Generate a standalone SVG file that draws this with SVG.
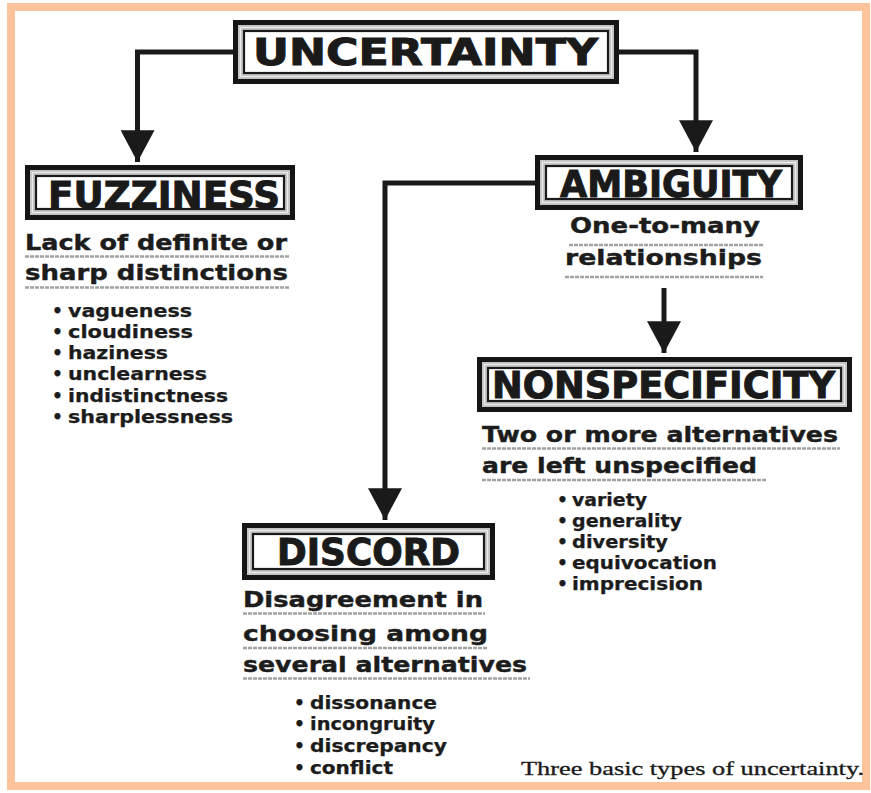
<svg xmlns="http://www.w3.org/2000/svg" width="871" height="793" viewBox="0 0 871 793">
  <defs>
    <style>
      .title { font-family: "DejaVu Sans", "Liberation Sans", sans-serif; font-weight: bold; font-size: 37px; fill: #1a1a1a; stroke: #1a1a1a; stroke-width: 1; }
      .sub { font-family: "DejaVu Sans", "Liberation Sans", sans-serif; font-weight: bold; font-size: 21px; fill: #1c1c1c; stroke: #1c1c1c; stroke-width: 0.4; }
      .item { font-family: "DejaVu Sans", "Liberation Sans", sans-serif; font-weight: bold; font-size: 17px; fill: #1c1c1c; stroke: #1c1c1c; stroke-width: 0.25; }
      .ul { stroke: #a3a3a3; stroke-width: 2.5; stroke-dasharray: 4 1; }
      .b-out { fill: #151515; }
      .b-band { fill: #c4c4c4; }
      .b-hl { fill: none; stroke: #ececec; stroke-width: 1.2; }
      .b-in { fill: #ffffff; stroke: #1a1a1a; stroke-width: 2.2; }
      .conn { fill: none; stroke: #1a1a1a; stroke-width: 5; }
      .cap { font-family: "Liberation Serif", "Times New Roman", serif; font-size: 19px; fill: #1a1a1a; stroke: #1a1a1a; stroke-width: 0.3; }
    </style>
    <marker id="head" markerUnits="userSpaceOnUse" markerWidth="34" markerHeight="34" viewBox="0 0 30 32" refX="30" refY="16" orient="auto">
      <path d="M0,0 L30,16 L0,32 Z" fill="#1a1a1a"/>
    </marker>
  </defs>

  <!-- page background and peach frame -->
  <rect x="0" y="0" width="871" height="793" fill="#ffffff"/>
  <rect x="11" y="7" width="855" height="779" fill="none" stroke="#fdc49b" stroke-width="8"/>

  <!-- connectors -->
  <g id="connectors">
    <path class="conn" d="M233,52 H137.5 V162" marker-end="url(#head)"/>
    <path class="conn" d="M619,52 H696 V152" marker-end="url(#head)"/>
    <path class="conn" d="M535,183 H385 V520" marker-end="url(#head)"/>
    <path class="conn" d="M664,288 V353" marker-end="url(#head)"/>
  </g>

  <!-- root node -->
  <g id="uncertainty">
    <rect class="b-out" x="233" y="20" width="386" height="64"/>
    <rect class="b-band" x="238" y="25" width="376" height="54"/>
    <rect class="b-hl" x="240.5" y="27.5" width="371" height="49"/>
    <rect class="b-in" x="244" y="31" width="364" height="42"/>
    <text class="title" x="253" y="65" textLength="345" lengthAdjust="spacingAndGlyphs">UNCERTAINTY</text>
  </g>

  <!-- fuzziness branch -->
  <g id="fuzziness">
    <rect class="b-out" x="25" y="165" width="270" height="55"/>
    <rect class="b-band" x="30" y="170" width="260" height="45"/>
    <rect class="b-hl" x="32.5" y="172.5" width="255" height="40"/>
    <rect class="b-in" x="36" y="176" width="248" height="33"/>
    <text class="title" x="48" y="208" textLength="232" lengthAdjust="spacingAndGlyphs">FUZZINESS</text>
    <text class="sub" x="25" y="250" textLength="262" lengthAdjust="spacingAndGlyphs">Lack of definite or</text>
    <line class="ul" x1="25" y1="256.5" x2="290" y2="256.5"/>
    <text class="sub" x="25" y="280" textLength="263" lengthAdjust="spacingAndGlyphs">sharp distinctions</text>
    <line class="ul" x1="25" y1="287.5" x2="290" y2="287.5"/>
    <g class="item">
      <text x="52" y="317">•</text><text x="68" y="317" textLength="124" lengthAdjust="spacingAndGlyphs">vagueness</text>
      <text x="52" y="338">•</text><text x="68" y="338" textLength="125" lengthAdjust="spacingAndGlyphs">cloudiness</text>
      <text x="52" y="359">•</text><text x="68" y="359" textLength="100" lengthAdjust="spacingAndGlyphs">haziness</text>
      <text x="52" y="380">•</text><text x="68" y="380" textLength="139" lengthAdjust="spacingAndGlyphs">unclearness</text>
      <text x="52" y="402">•</text><text x="68" y="402" textLength="160" lengthAdjust="spacingAndGlyphs">indistinctness</text>
      <text x="52" y="423">•</text><text x="68" y="423" textLength="165" lengthAdjust="spacingAndGlyphs">sharplessness</text>
    </g>
  </g>

  <!-- ambiguity branch -->
  <g id="ambiguity">
    <rect class="b-out" x="535" y="155" width="268" height="55"/>
    <rect class="b-band" x="540" y="160" width="258" height="45"/>
    <rect class="b-hl" x="542.5" y="162.5" width="253" height="40"/>
    <rect class="b-in" x="546" y="166" width="246" height="33"/>
    <text class="title" x="560" y="197" textLength="222" lengthAdjust="spacingAndGlyphs">AMBIGUITY</text>
    <text class="sub" x="570" y="233" textLength="190" lengthAdjust="spacingAndGlyphs">One-to-many</text>
    <line class="ul" x1="569" y1="245" x2="763" y2="245"/>
    <text class="sub" x="565" y="265" textLength="197" lengthAdjust="spacingAndGlyphs">relationships</text>
    <line class="ul" x1="565" y1="277" x2="763" y2="277"/>
  </g>

  <!-- nonspecificity branch -->
  <g id="nonspecificity">
    <rect class="b-out" x="477" y="357" width="375" height="55"/>
    <rect class="b-band" x="482" y="362" width="365" height="45"/>
    <rect class="b-hl" x="484.5" y="364.5" width="360" height="40"/>
    <rect class="b-in" x="488" y="368" width="353" height="33"/>
    <text class="title" x="492" y="398" textLength="343" lengthAdjust="spacingAndGlyphs">NONSPECIFICITY</text>
    <text class="sub" x="482" y="442" textLength="356" lengthAdjust="spacingAndGlyphs">Two or more alternatives</text>
    <line class="ul" x1="482" y1="448.5" x2="840" y2="448.5"/>
    <text class="sub" x="482" y="473" textLength="275" lengthAdjust="spacingAndGlyphs">are left unspecified</text>
    <line class="ul" x1="482" y1="480" x2="767" y2="480"/>
    <g class="item">
      <text x="557" y="506">•</text><text x="572" y="506" textLength="75" lengthAdjust="spacingAndGlyphs">variety</text>
      <text x="557" y="527">•</text><text x="572" y="527" textLength="110" lengthAdjust="spacingAndGlyphs">generality</text>
      <text x="557" y="548">•</text><text x="572" y="548" textLength="96" lengthAdjust="spacingAndGlyphs">diversity</text>
      <text x="557" y="569">•</text><text x="572" y="569" textLength="145" lengthAdjust="spacingAndGlyphs">equivocation</text>
      <text x="557" y="590">•</text><text x="572" y="590" textLength="131" lengthAdjust="spacingAndGlyphs">imprecision</text>
    </g>
  </g>

  <!-- discord branch -->
  <g id="discord">
    <rect class="b-out" x="242" y="523" width="253" height="57"/>
    <rect class="b-band" x="247" y="528" width="243" height="47"/>
    <rect class="b-hl" x="249.5" y="530.5" width="238" height="42"/>
    <rect class="b-in" x="253" y="534" width="231" height="35"/>
    <text class="title" x="277" y="565" textLength="183" lengthAdjust="spacingAndGlyphs">DISCORD</text>
    <text class="sub" x="243" y="607" textLength="240" lengthAdjust="spacingAndGlyphs">Disagreement in</text>
    <line class="ul" x1="243" y1="613.5" x2="485" y2="613.5"/>
    <text class="sub" x="243" y="641" textLength="245" lengthAdjust="spacingAndGlyphs">choosing among</text>
    <line class="ul" x1="243" y1="648" x2="487" y2="648"/>
    <text class="sub" x="243" y="672" textLength="284" lengthAdjust="spacingAndGlyphs">several alternatives</text>
    <line class="ul" x1="243" y1="678.5" x2="530" y2="678.5"/>
    <g class="item">
      <text x="294" y="709">•</text><text x="310" y="709" textLength="127" lengthAdjust="spacingAndGlyphs">dissonance</text>
      <text x="294" y="730">•</text><text x="310" y="730" textLength="125" lengthAdjust="spacingAndGlyphs">incongruity</text>
      <text x="294" y="752">•</text><text x="310" y="752" textLength="137" lengthAdjust="spacingAndGlyphs">discrepancy</text>
      <text x="294" y="774">•</text><text x="310" y="774" textLength="83" lengthAdjust="spacingAndGlyphs">conflict</text>
    </g>
  </g>

  <!-- caption -->
  <text class="cap" x="521" y="775" textLength="343" lengthAdjust="spacingAndGlyphs">Three basic types of uncertainty.</text>
</svg>
